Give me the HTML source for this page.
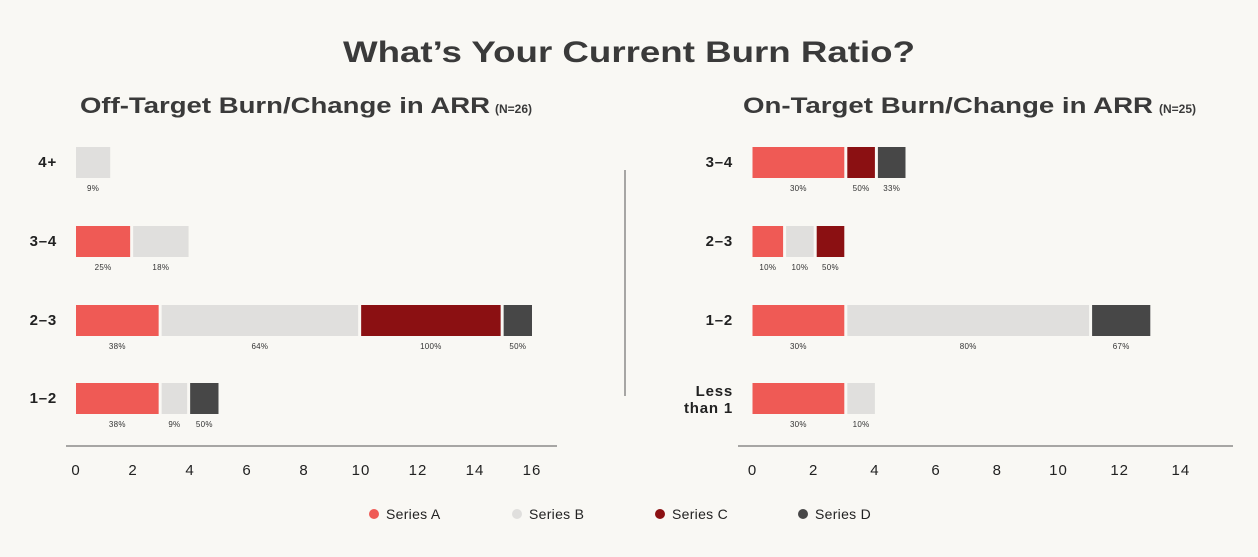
<!DOCTYPE html>
<html><head><meta charset="utf-8"><style>
html,body{margin:0;padding:0;background:#f9f8f4;}
svg{display:block;font-family:"Liberation Sans",sans-serif;}
</style></head><body>
<svg id="chart" width="1258" height="557" viewBox="0 0 1258 557">
<rect width="1258" height="557" fill="#f9f8f4"/>
<text x="629" y="62" text-anchor="middle" font-size="30" font-weight="bold" fill="#3a3a3a" textLength="572" lengthAdjust="spacingAndGlyphs">What’s Your Current Burn Ratio?</text>
<text x="80" y="113" font-size="22" font-weight="bold" fill="#3a3a3a"><tspan textLength="410" lengthAdjust="spacingAndGlyphs">Off-Target Burn/Change in ARR</tspan><tspan x="495" font-size="12">(N=26)</tspan></text>
<text x="743" y="113" font-size="22" font-weight="bold" fill="#3a3a3a"><tspan textLength="410" lengthAdjust="spacingAndGlyphs">On-Target Burn/Change in ARR</tspan><tspan x="1159" font-size="12">(N=25)</tspan></text>
<line x1="625" y1="170" x2="625" y2="396" stroke="#555" stroke-width="1"/>
<g id="left"></g>
<g id="right"></g>
<g id="legend"></g>
</svg>
<script>
const seriesNames = ["Series A","Series B","Series C","Series D"];
const colors = ["#ef5a55","#e0dfdd","#8b1012","#474747"];
const leftCategories = ["4+","3–4","2–3","1–2"];
const leftValues = [[0,1.2,0,0],[1.9,2.05,0,0],[2.9,7,5,1.1],[2.9,1,0,1.1]];
const leftLabels = [["","9%","",""],["25%","18%","",""],["38%","64%","100%","50%"],["38%","9%","","50%"]];
const leftTicks = [0,2,4,6,8,10,12,14,16];
const rightCategories = ["3–4","2–3","1–2","Less than 1"];
const rightValues = [[3,0,1,1],[1,1,1,0],[3,8,0,2],[3,1,0,0]];
const rightLabels = [["30%","","50%","33%"],["10%","10%","50%",""],["30%","80%","","67%"],["30%","10%","",""]];
const rightTicks = [0,2,4,6,8,10,12,14];

const NS="http://www.w3.org/2000/svg";
function mk(tag,attrs,parent){const e=document.createElementNS(NS,tag);for(const k in attrs)e.setAttribute(k,attrs[k]);parent.appendChild(e);return e;}

function panel(g,cats,vals,labels,ticks,x0,unit,axisX1,axisX2,labelRight){
  const xs=v=>x0+v*unit;
  const rowY=[162,241,320,398];
  cats.forEach((c,i)=>{
    const y=rowY[i];
    const parts=c.split(" than ");
    if(parts.length>1){
      const t=mk("text",{x:labelRight,"text-anchor":"end","font-size":"15","font-weight":"bold",fill:"#222","letter-spacing":"0.8"},g);
      
      
      const a=mk("tspan",{x:labelRight,y:y-2},t);a.textContent=parts[0];
      const b=mk("tspan",{x:labelRight,y:y+15},t);b.textContent="than "+parts[1];
    } else {
      const t=mk("text",{x:labelRight,y:y+5,"text-anchor":"end","font-size":"15","font-weight":"bold",fill:"#222","letter-spacing":"0.8"},g);
      
      
      t.textContent=c;
    }
    let cum=0;
    vals[i].forEach((v,s)=>{
      if(v<=0)return;
      const xa=xs(cum)+(cum>0?3:0), xb=xs(cum+v);
      const r=mk("rect",{x:xa,y:y-15,width:Math.max(1,xb-xa),height:31,fill:colors[s]},g);
      
      
      if(labels[i][s]){
        const t=mk("text",{x:(xa+xb)/2,y:y+29,"text-anchor":"middle","font-size":"8",fill:"#333","letter-spacing":"0.3"},g);
        
        
        t.textContent=labels[i][s];
      }
      cum+=v;
    });
  });
  const ax=mk("line",{x1:axisX1,y1:446,x2:axisX2,y2:446,stroke:"#555","stroke-width":"1"},g);
  
  
  ticks.forEach(tv=>{
    const t=mk("text",{x:xs(tv),y:475,"text-anchor":"middle","font-size":"15",fill:"#222","letter-spacing":"1"},g);
    
    
    t.textContent=tv;
  });
}
panel(document.getElementById("left"),leftCategories,leftValues,leftLabels,leftTicks,76,28.5,66,557,57);
panel(document.getElementById("right"),rightCategories,rightValues,rightLabels,rightTicks,752.5,30.6,738,1233,733);

const lg=document.getElementById("legend");
const lx=[374,517,660,803];
seriesNames.forEach((n,i)=>{
  const c=mk("circle",{cx:lx[i],cy:514,r:5,fill:colors[i]},lg);
  
  
  const t=mk("text",{x:lx[i]+12,y:519,"font-size":"14",fill:"#222","letter-spacing":"0.3"},lg);
  
  
  t.textContent=n;
});
</script>
</body></html>
